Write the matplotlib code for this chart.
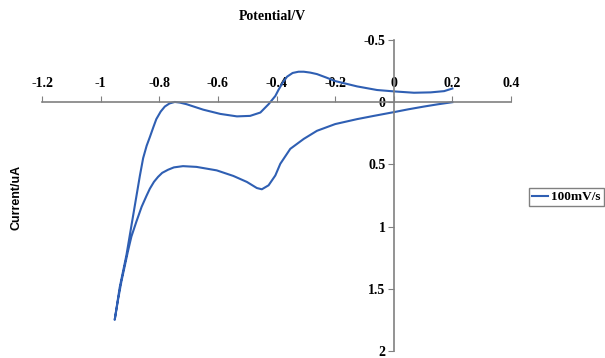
import numpy as np
from matplotlib import pyplot as plt

# cathodic sweep (0.2 V -> -0.95 V)
x_fwd = [0.2, 0.15, 0.103, 0.05, 0.0, -0.068, -0.125, -0.2, -0.262, -0.307, -0.353,
         -0.387, -0.404, -0.427, -0.45, -0.467, -0.501, -0.547, -0.604, -0.673, -0.719,
         -0.75, -0.77, -0.79, -0.804, -0.818, -0.832, -0.843, -0.86, -0.878, -0.895,
         -0.907, -0.918, -0.929, -0.94, -0.952]
i_fwd = [0.0, 0.017, 0.035, 0.057, 0.08, 0.11, 0.136, 0.176, 0.23, 0.295, 0.375,
         0.495, 0.589, 0.668, 0.70, 0.69, 0.641, 0.593, 0.548, 0.52, 0.514,
         0.524, 0.543, 0.568, 0.60, 0.64, 0.695, 0.75, 0.84, 0.96, 1.08,
         1.2, 1.32, 1.44, 1.58, 1.75]
# anodic sweep (-0.95 V -> 0.2 V)
x_rev = [-0.935, -0.912, -0.889, -0.866, -0.855, -0.843, -0.832, -0.82, -0.81, -0.795,
         -0.781, -0.765, -0.747, -0.73, -0.707, -0.65, -0.592, -0.535, -0.49, -0.455,
         -0.427, -0.404, -0.393, -0.378, -0.364, -0.345, -0.325, -0.307, -0.285, -0.262,
         -0.23, -0.2, -0.125, -0.057, 0.0, 0.069, 0.126, 0.172, 0.2]
i_rev = [1.49, 1.23, 0.91, 0.59, 0.45, 0.35, 0.28, 0.2, 0.136, 0.075,
         0.035, 0.01, -0.002, 0.003, 0.016, 0.06, 0.094, 0.114, 0.11, 0.083,
         0.016, -0.05, -0.1, -0.16, -0.205, -0.235, -0.245, -0.245, -0.238, -0.226,
         -0.198, -0.17, -0.127, -0.098, -0.087, -0.076, -0.079, -0.089, -0.11]

x_ticks = [-1.2, -1, -0.8, -0.6, -0.4, -0.2, 0, 0.2, 0.4]
x_labels = ["-1.2", "-1", "-0.8", "-0.6", "-0.4", "-0.2", "0", "0.2", "0.4"]
y_ticks = [-0.5, 0, 0.5, 1, 1.5, 2]
y_labels = ["-0.5", "0", "0.5", "1", "1.5", "2"]

serif = "Liberation Serif"
fig = plt.figure(figsize=(6.05, 3.58), dpi=100)
ax = fig.add_axes([42/605, 1-351/358, (511-42)/605, (351-40)/358])

ax.plot(x_fwd + x_rev, i_fwd + i_rev, color="#2F5FB3", linewidth=1.5, label="100mV/s")

ax.set_xlim(-1.2, 0.4)
ax.set_ylim(2, -0.5)

for s in ["bottom", "right"]:
    ax.spines[s].set_visible(False)
ax.spines["top"].set_position(("data", 0))
ax.spines["left"].set_position(("data", 0))
for s in ["top", "left"]:
    ax.spines[s].set_color("#808080")
    ax.spines[s].set_linewidth(1.2)

ax.xaxis.tick_top()
ax.set_xticks(x_ticks)
ax.set_xticklabels(x_labels, fontfamily=serif, fontweight="bold", fontsize=10)
ax.set_yticks(y_ticks)
ax.set_yticklabels(y_labels, fontfamily=serif, fontweight="bold", fontsize=10)
ax.tick_params(axis="x", direction="out", length=4, color="#808080", pad=5)
ax.tick_params(axis="y", direction="out", length=4, color="#808080", pad=2)

fig.text(272/605, 1-17/358, "Potential/V", ha="center", va="center",
         fontfamily=serif, fontweight="bold", fontsize=10)
fig.text(17/605, 1-197/358, "Current/uA", ha="center", va="center", rotation=90,
         fontfamily="Liberation Sans", fontweight="bold", fontsize=9)

leg = fig.legend(loc="center left", bbox_to_anchor=(529/605, 1-197/358),
                 prop={"family": serif, "weight": "bold", "size": 9.5},
                 fancybox=False, edgecolor="#808080", framealpha=1,
                 handlelength=1.2, handletextpad=0.2, borderpad=0.25, borderaxespad=0)
leg.get_frame().set_linewidth(1.0)

fig.savefig("out.png", dpi=100)
